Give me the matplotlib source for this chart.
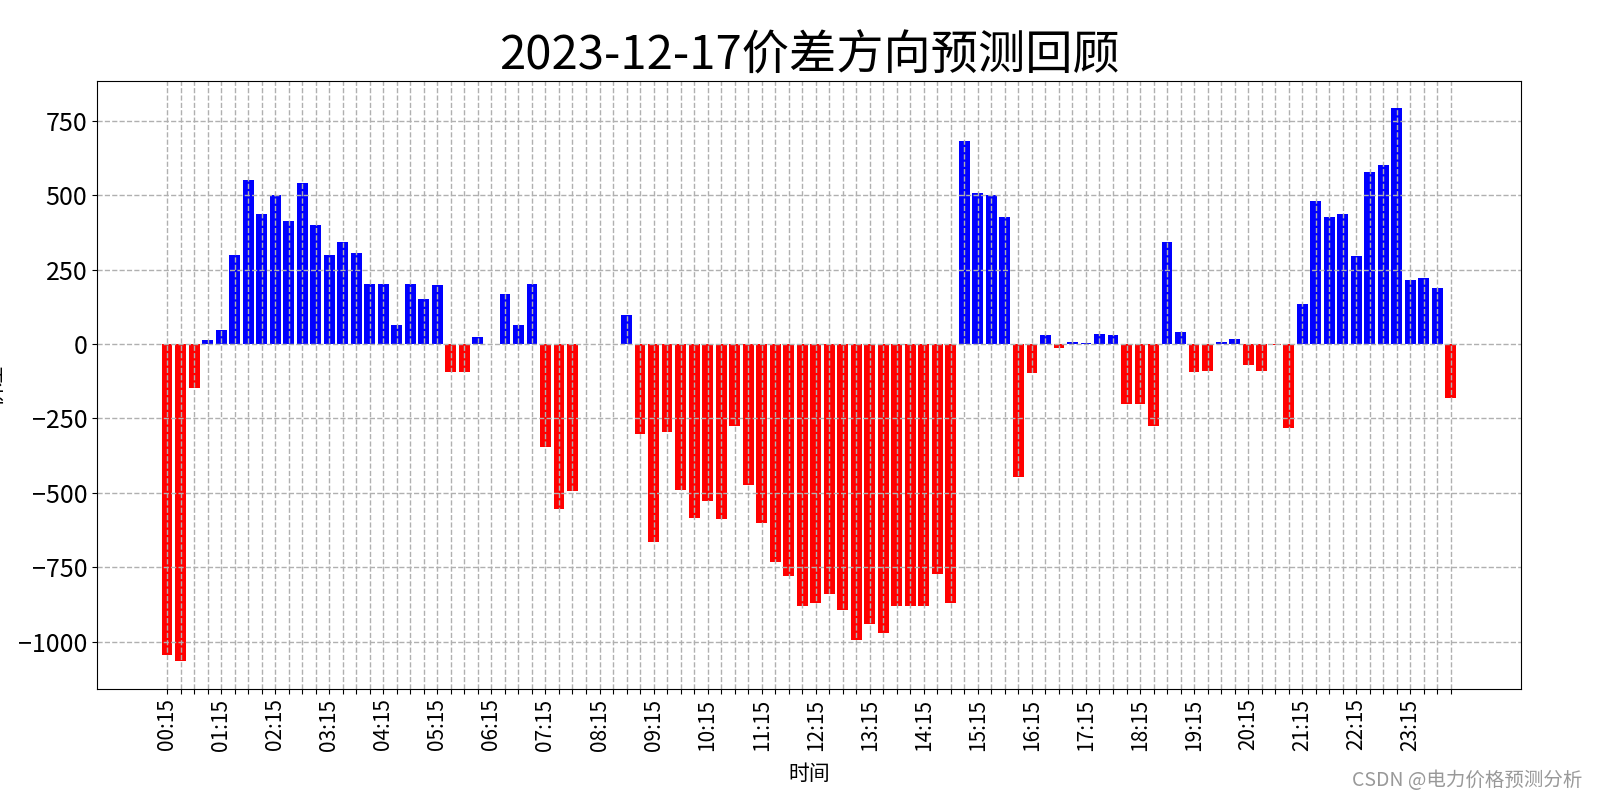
import matplotlib
matplotlib.use("Agg")
import matplotlib.pyplot as plt
import numpy as np

plt.rcParams['font.family'] = ['Noto Sans CJK SC', 'DejaVu Sans']
plt.rcParams['axes.unicode_minus'] = True

title = "2023-12-17价差方向预测回顾"

# 96 quarter-hour intervals 00:15 .. 24:00
times = [f"{(m // 60):02d}:{(m % 60):02d}" for m in range(15, 24 * 60 + 1, 15)]

values = [
    -1045, -1065, -147, 14, 48, 300, 552, 435, 500, 412, 542, 401,
    300, 341, 307, 202, 202, 64, 202, 152, 199, -95, -95, 24,
    0, 169, 64, 202, -345, -553, -495, 0, 0, 0, 98, -301,
    -664, -297, -489, -583, -526, -587, -277, -472, -600, -731, -778, -879,
    -869, -839, -892, -993, -939, -970, -879, -879, -879, -771, -869, 683,
    506, 500, 428, -445, -99, 31, -12, 8, 4, 35, 31, -203,
    -203, -274, 344, 41, -95, -91, 8, 18, -72, -91, -3, -283,
    133, 479, 428, 437, 297, 576, 600, 791, 216, 223, 189, -183,
]

colors = ['#0000ff' if v > 0 else '#ff0000' for v in values]

fig = plt.figure(figsize=(16, 8), dpi=100)
ax = fig.add_axes([0.0606, 0.139, 0.89, 0.76])

x = np.arange(len(times))
ax.bar(x, values, color=colors, width=0.8)

ax.set_xticks(x)
ax.set_xticklabels([t if i % 4 == 0 else "" for i, t in enumerate(times)],
                   rotation=90, fontsize=15)
ax.set_yticks([-1000, -750, -500, -250, 0, 250, 500, 750])
ax.tick_params(axis='y', labelsize=18)
ax.grid(True, linestyle='--', color='#b0b0b0', linewidth=1)

ax.set_title(title, fontsize=34, pad=8)
ax.set_xlabel("时间", fontsize=15, labelpad=9)
ax.set_ylabel("价差", fontsize=15)
ax.yaxis.set_label_coords(-0.064, 0.5)

fig.text(0.989, 0.025, "CSDN @电力价格预测分析", color='#999999',
         fontsize=14, ha='right', va='center')

fig.savefig("out.png", dpi=100)
